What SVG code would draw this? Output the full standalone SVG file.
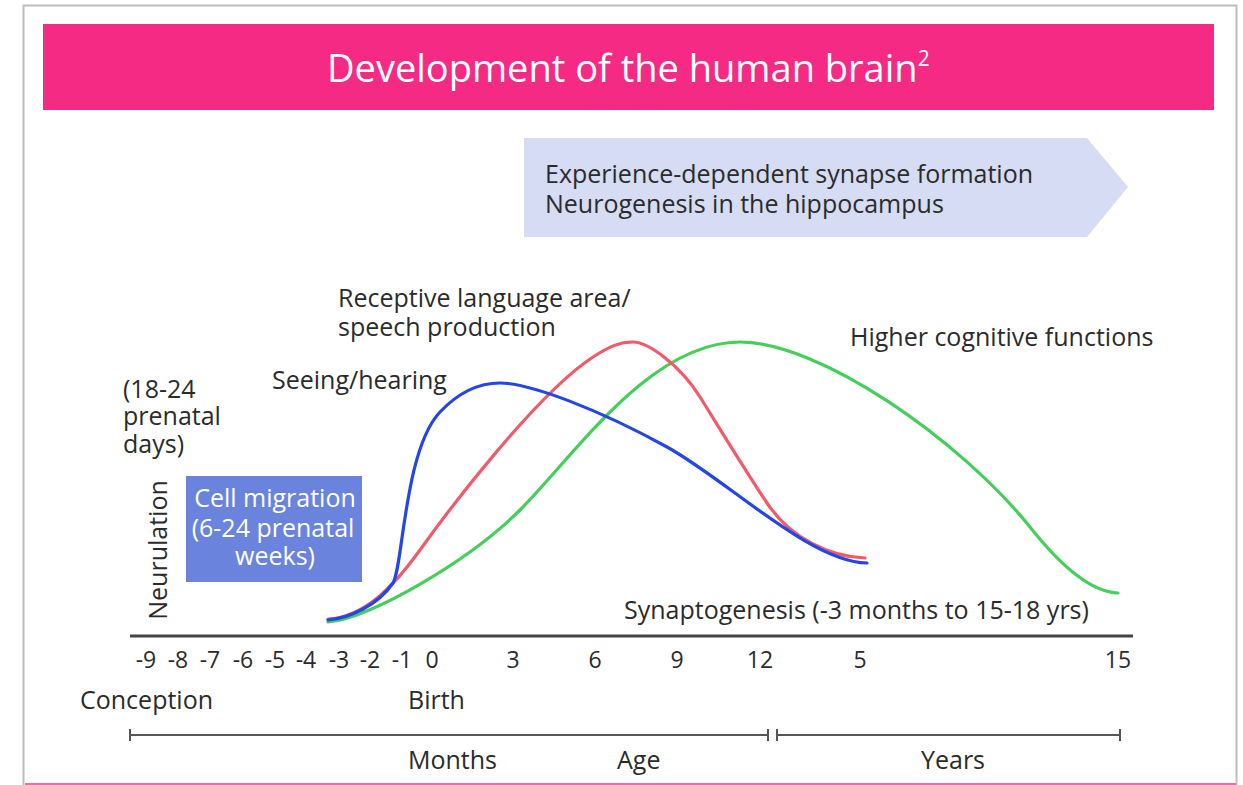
<svg xmlns="http://www.w3.org/2000/svg" width="1243" height="785" viewBox="0 0 1243 785">
<style>
text{font-family:"Open Sans","Noto Sans","Liberation Sans",sans-serif;fill:#2b2b2b;font-size:25px}
.w{fill:#fff}
.title{font-size:38px;fill:#fff}
.sup{font-size:21px}
.tick{font-size:23px;text-anchor:middle}
.mid{text-anchor:middle}
.curve{fill:none;stroke-width:3.2;stroke-linecap:round}
.scale{stroke:#555;stroke-width:2;fill:none}
</style>
<rect x="0" y="0" width="1243" height="785" fill="#fff"/>
<rect x="23.5" y="5.5" width="1213" height="800" fill="none" stroke="#bdbdbd" stroke-width="2"/>
<line x1="25" y1="784" x2="1236" y2="784" stroke="#f06aa8" stroke-width="2"/>
<g id="title">
<rect x="43" y="24" width="1171" height="86" fill="#f52a84"/>
<text class="title" x="327" y="82">Development of the human brain<tspan class="sup" dy="-16">2</tspan></text>
</g>
<g id="experience">
<polygon points="524,138 1087,138 1128,187 1087,237 524,237" fill="#d5dcf4"/>
<text x="545" y="183">Experience-dependent synapse formation</text>
<text x="545" y="213">Neurogenesis in the hippocampus</text>
</g>
<g id="cell-migration">
<rect x="186" y="476" width="176" height="106" fill="#6a84de"/>
<text class="w mid" x="275" y="507">Cell migration</text>
<text class="w mid" x="273" y="537">(6-24 prenatal</text>
<text class="w mid" x="275" y="565">weeks)</text>
</g>
<g id="neurulation">
<text class="mid" transform="translate(167,550) rotate(-90)">Neurulation</text>
<text x="123" y="398">(18-24</text>
<text x="123" y="425">prenatal</text>
<text x="123" y="453">days)</text>
</g>
<g id="curves">
<path class="curve" stroke="#45cf5a" d="M328,622 C370,619 470,560 520,510 C575,455 650,342 740,342 C820,342 960,440 1030,527 C1060,565 1090,592 1118,593"/>
<path class="curve" stroke="#f05a6a" d="M328,619 C365,617 395,585 420,550 C445,515 535,395 593,357 C610,346 620,342 633,342 C648,342 680,365 700,397 C720,429 745,470 767,503 C790,538 830,557 865,558"/>
<path class="curve" stroke="#2346e6" d="M328,620 C350,618 378,605 393,583 C403,568 404,450 440,412 C458,393 478,383 500,383 C530,383 600,410 667,447 C727,480 810,562 867,563"/>
</g>
<g id="labels">
<text x="338" y="307">Receptive language area/</text>
<text x="338" y="336">speech production</text>
<text x="272" y="389">Seeing/hearing</text>
<text x="850" y="346">Higher cognitive functions</text>
<text x="624" y="619">Synaptogenesis (-3 months to 15-18 yrs)</text>
</g>
<g id="axis">
<line x1="130" y1="636" x2="1133" y2="636" stroke="#444" stroke-width="3"/>
<text class="tick" x="146" y="668">-9</text>
<text class="tick" x="178" y="668">-8</text>
<text class="tick" x="210" y="668">-7</text>
<text class="tick" x="243" y="668">-6</text>
<text class="tick" x="275" y="668">-5</text>
<text class="tick" x="306" y="668">-4</text>
<text class="tick" x="339" y="668">-3</text>
<text class="tick" x="370" y="668">-2</text>
<text class="tick" x="402" y="668">-1</text>
<text class="tick" x="432" y="668">0</text>
<text class="tick" x="513" y="668">3</text>
<text class="tick" x="595" y="668">6</text>
<text class="tick" x="677" y="668">9</text>
<text class="tick" x="760" y="668">12</text>
<text class="tick" x="860" y="668">5</text>
<text class="tick" x="1118" y="668">15</text>
</g>
<g id="timescale">
<text x="80" y="709">Conception</text>
<text x="408" y="709">Birth</text>
<path class="scale" d="M130,735 H768 M130,729 V741 M768,729 V741 M777,729 V741 M777,735 H1120 M1120,729 V741"/>
<text x="408" y="769">Months</text>
<text x="617" y="769">Age</text>
<text x="921" y="769">Years</text>
</g>
</svg>
